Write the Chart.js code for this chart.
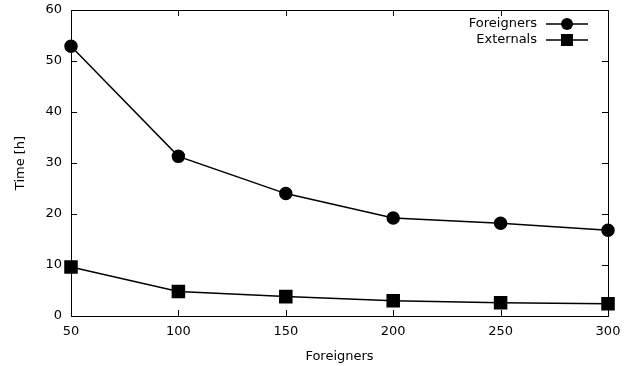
<!DOCTYPE html>
<html>
<head>
<meta charset="utf-8">
<script src="https://cdn.jsdelivr.net/npm/chart.js@4/dist/chart.umd.min.js"></script>
<style>
  html, body { margin: 0; padding: 0; background: #fff; }
  #wrap { width: 634px; height: 366px; }
</style>
</head>
<body>
<div id="wrap"><canvas id="plot" width="634" height="366"></canvas></div>
<script>
// data
const foreigners = [50, 100, 150, 200, 250, 300];
const foreignersTime = [52.9, 31.3, 24.0, 19.2, 18.2, 16.8];
const externalsTime = [9.6, 4.8, 3.8, 3.0, 2.6, 2.4];
const xTicks = [50, 100, 150, 200, 250, 300];
const yTicks = [0, 10, 20, 30, 40, 50, 60];

const FONT = 'DejaVu Sans';
const FS = 13;

// gnuplot-like frame: border, inward ticks on all sides, key in top right
const gnuplotFrame = {
    id: 'gnuplotFrame',
    afterDatasetsDraw(chart) {
        const { ctx, chartArea: a, scales } = chart;
        ctx.save();
        ctx.strokeStyle = '#000';
        ctx.lineWidth = 1;
        ctx.strokeRect(a.left + 0.5, a.top + 0.5, a.right - a.left, a.bottom - a.top);
        const len = 6;
        ctx.beginPath();
        xTicks.forEach(v => {
            const px = Math.round(scales.x.getPixelForValue(v)) + 0.5;
            ctx.moveTo(px, a.bottom); ctx.lineTo(px, a.bottom - len);
            ctx.moveTo(px, a.top); ctx.lineTo(px, a.top + len);
        });
        yTicks.forEach(v => {
            const py = Math.round(scales.y.getPixelForValue(v)) + 0.5;
            ctx.moveTo(a.left, py); ctx.lineTo(a.left + len, py);
            ctx.moveTo(a.right, py); ctx.lineTo(a.right - len, py);
        });
        ctx.stroke();

        // key
        ctx.font = FS + 'px ' + FONT;
        ctx.textAlign = 'right';
        ctx.textBaseline = 'middle';
        ctx.fillStyle = '#000';
        chart.data.datasets.forEach((ds, i) => {
            const y = 24 + i * 16;
            ctx.fillText(ds.label, 537, y);
            ctx.beginPath();
            ctx.lineWidth = 1.5;
            ctx.moveTo(546, y); ctx.lineTo(588, y);
            ctx.stroke();
            ctx.beginPath();
            if (ds.pointStyle === 'circle') {
                ctx.arc(567, y, 6, 0, Math.PI * 2);
            } else {
                ctx.rect(561, y - 6, 12, 12);
            }
            ctx.fill();
        });
        ctx.restore();
    }
};

new Chart(document.getElementById('plot'), {
    type: 'line',
    data: {
        datasets: [
            {
                label: 'Foreigners',
                data: foreigners.map((x, i) => ({ x, y: foreignersTime[i] })),
                borderColor: '#000',
                backgroundColor: '#000',
                borderWidth: 1.5,
                pointStyle: 'circle',
                pointRadius: 6,
                tension: 0
            },
            {
                label: 'Externals',
                data: foreigners.map((x, i) => ({ x, y: externalsTime[i] })),
                borderColor: '#000',
                backgroundColor: '#000',
                borderWidth: 1.5,
                pointStyle: 'rect',
                pointRadius: 8.5,
                tension: 0
            }
        ]
    },
    options: {
        responsive: false,
        animation: false,
        clip: false,
        layout: { autoPadding: false, padding: { left: 0, right: 26, top: 10, bottom: 0 } },
        plugins: {
            legend: { display: false },
            tooltip: { enabled: false }
        },
        scales: {
            x: {
                type: 'linear',
                min: 50,
                max: 300,
                afterFit(s) { s.height = 50; s.paddingLeft = 0; s.paddingRight = 0; },
                afterBuildTicks(s) { s.ticks = xTicks.map(v => ({ value: v })); },
                grid: { display: false, drawTicks: false },
                border: { display: false },
                ticks: { color: '#000', padding: 8, font: { family: FONT, size: FS } },
                title: {
                    display: true, text: 'Foreigners', color: '#000',
                    font: { family: FONT, size: FS }, padding: { top: 6, bottom: 2 }
                }
            },
            y: {
                type: 'linear',
                min: 0,
                max: 60,
                afterFit(s) { s.width = 71; s.paddingTop = 0; s.paddingBottom = 0; },
                afterBuildTicks(s) { s.ticks = yTicks.map(v => ({ value: v })); },
                grid: { display: false, drawTicks: false },
                border: { display: false },
                ticks: { color: '#000', padding: 9, font: { family: FONT, size: FS } },
                title: {
                    display: true, text: 'Time [h]', color: '#000',
                    font: { family: FONT, size: FS }, padding: { top: 13, bottom: 6 }
                }
            }
        }
    },
    plugins: [gnuplotFrame]
});
</script>
</body>
</html>
